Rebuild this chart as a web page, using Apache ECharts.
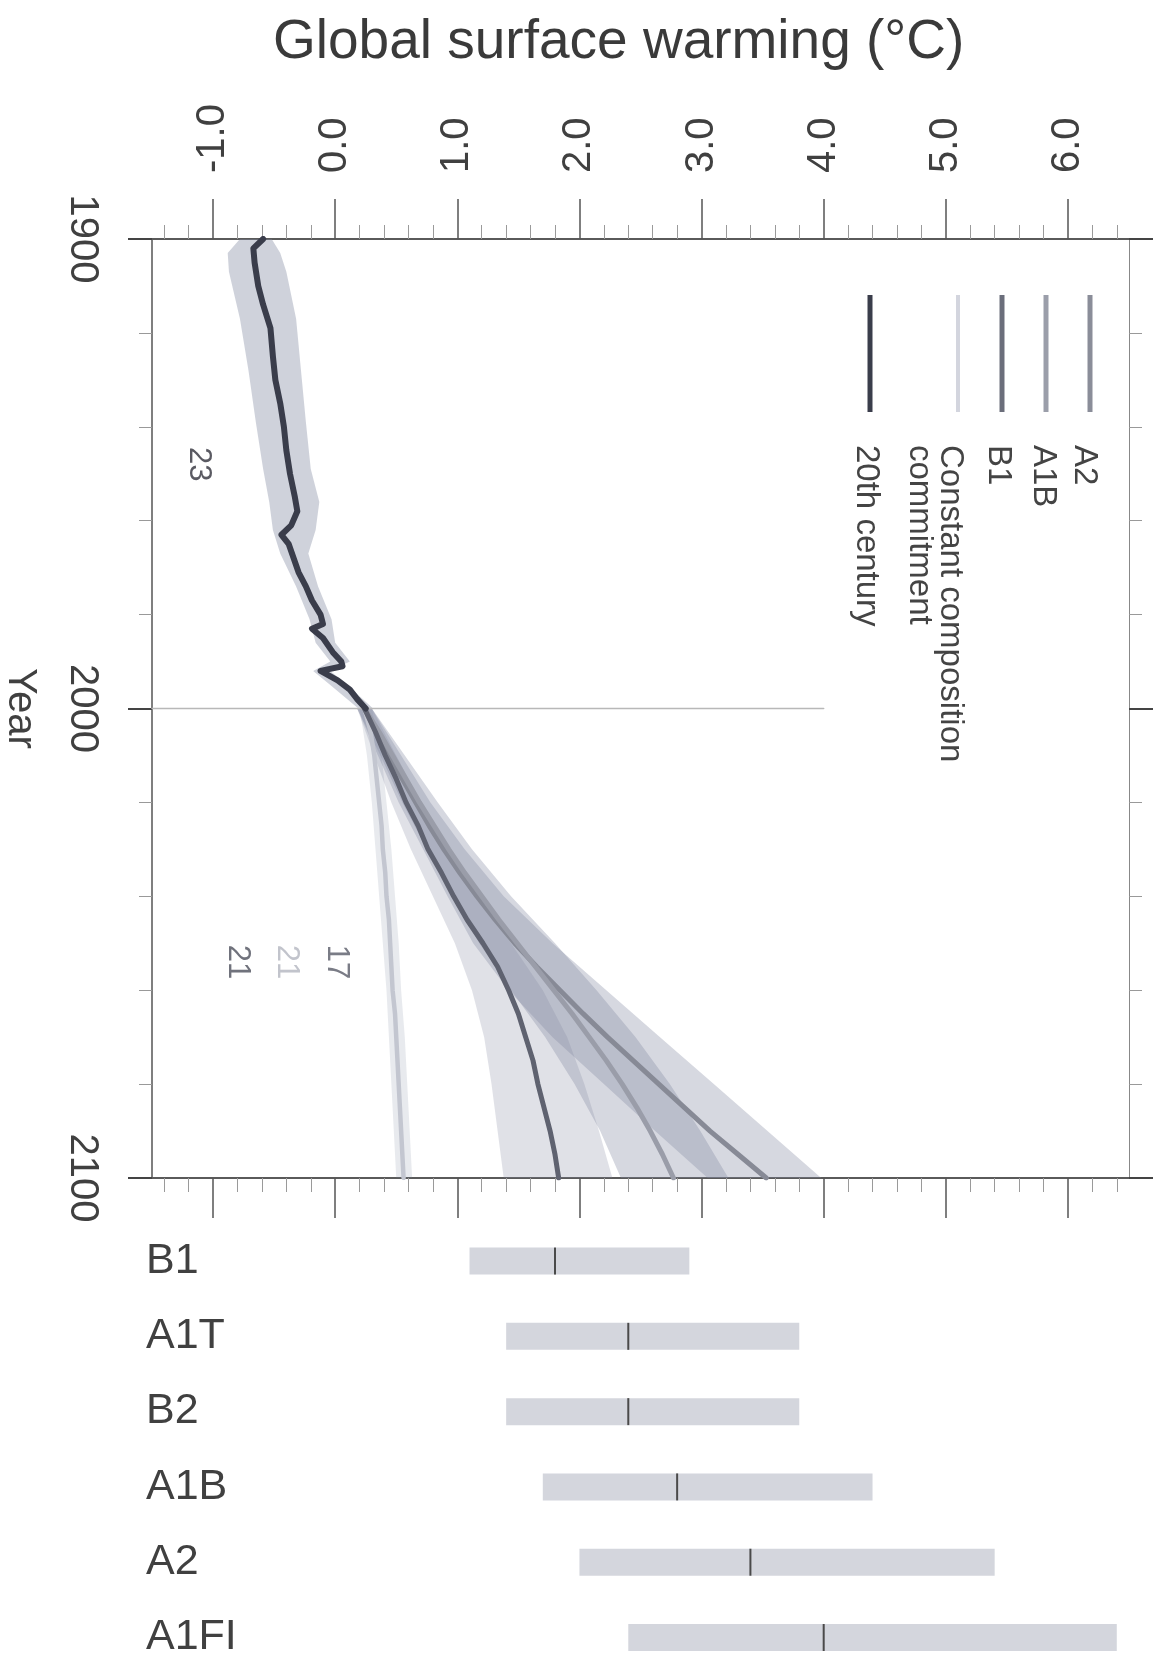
<!DOCTYPE html>
<html><head><meta charset="utf-8">
<script src="https://cdn.jsdelivr.net/npm/echarts@6/dist/echarts.min.js"></script>
<style>html,body{margin:0;padding:0;background:#fff}#c{width:1167px;height:1662px}</style>
</head><body><div id="c"></div>
<script>
// ---------- DATA ----------
const tempMajor = [-1, 0, 1, 2, 3, 4, 5, 6];
const tempMinor = [-1.4,-1.2,-0.8,-0.6,-0.4,-0.2,0.2,0.4,0.6,0.8,1.2,1.4,1.6,1.8,2.2,2.4,2.6,2.8,3.2,3.4,3.6,3.8,4.2,4.4,4.6,4.8,5.2,5.4,5.6,5.8,6.2,6.4];
const yearMajor = [1900, 2000, 2100];
const yearMinor = [1920, 1940, 1960, 1980, 2020, 2040, 2060, 2080];

// 20th century multi-model mean
const years20 = [1900,1902,1905,1910,1914,1919,1925,1930,1935,1940,1945,1950,1955,1958,1961,1963,1965,1968,1971,1974,1977,1980,1982,1983,1985,1988,1990,1991,1992,1994,1996,1998,2000];
const temp20  = [-0.59,-0.67,-0.66,-0.63,-0.59,-0.53,-0.51,-0.49,-0.45,-0.42,-0.40,-0.37,-0.33,-0.31,-0.36,-0.44,-0.38,-0.34,-0.30,-0.24,-0.19,-0.12,-0.10,-0.19,-0.10,-0.02,0.05,0.06,-0.12,0.02,0.12,0.18,0.25];
// 20th century +/- 1 sd band
const band20Years = [1900,1903,1907,1917,1928,1939,1949,1956,1962,1967,1974,1981,1986,1990,1992,1995,2000];
const band20Low   = [-0.78,-0.88,-0.87,-0.78,-0.71,-0.65,-0.59,-0.54,-0.51,-0.45,-0.32,-0.21,-0.16,-0.04,-0.18,-0.04,0.19];
const band20High  = [-0.52,-0.45,-0.40,-0.32,-0.28,-0.24,-0.20,-0.13,-0.16,-0.22,-0.14,-0.03,0.00,0.12,-0.04,0.10,0.31];

// 21st century scenarios
const scenYears = [2000,2005,2010,2015,2020,2025,2030,2035,2040,2045,2050,2055,2060,2065,2070,2075,2080,2085,2090,2095,2100];
const tempA2    = [0.24,0.34,0.44,0.55,0.66,0.77,0.89,1.02,1.16,1.31,1.47,1.65,1.84,2.03,2.23,2.44,2.65,2.86,3.07,3.30,3.53];
const tempA1B   = [0.24,0.36,0.47,0.58,0.69,0.81,0.93,1.06,1.20,1.34,1.49,1.64,1.79,1.94,2.08,2.22,2.35,2.47,2.58,2.68,2.77];
const tempB1    = [0.24,0.33,0.41,0.50,0.58,0.68,0.76,0.87,0.97,1.08,1.21,1.33,1.42,1.50,1.56,1.62,1.66,1.71,1.76,1.80,1.83];
const tempCC    = [0.24,0.29,0.32,0.34,0.36,0.38,0.39,0.41,0.42,0.44,0.45,0.46,0.47,0.49,0.50,0.51,0.52,0.53,0.54,0.55,0.56];

// scenario +/- 1 sd bands
const bandYears = [2000,2010,2020,2030,2040,2050,2060,2070,2080,2090,2100];
const bandA2Low   = [0.18,0.35,0.52,0.72,0.92,1.13,1.42,1.78,2.20,2.62,3.05];
const bandA2High  = [0.30,0.54,0.78,1.06,1.38,1.78,2.22,2.66,3.10,3.54,3.98];
const bandA1BLow  = [0.18,0.37,0.55,0.75,0.96,1.18,1.44,1.72,1.96,2.17,2.34];
const bandA1BHigh = [0.30,0.57,0.84,1.12,1.44,1.80,2.14,2.46,2.74,2.99,3.22];
const bandB1Low   = [0.18,0.32,0.46,0.62,0.80,0.98,1.12,1.22,1.28,1.33,1.38];
const bandB1High  = [0.30,0.50,0.70,0.92,1.16,1.44,1.70,1.90,2.04,2.16,2.27];
const bandCCLow   = [0.20,0.26,0.30,0.33,0.36,0.39,0.42,0.44,0.46,0.48,0.50];
const bandCCHigh  = [0.30,0.38,0.42,0.46,0.49,0.52,0.54,0.57,0.59,0.61,0.63];

// reference line at year 2000
const refLineTemp = [-1.5, 4.0];
const refLineYear = [2000, 2000];

// model counts
const annoText = ['23', '17', '21', '21'];
const annoTemp = [-1.12, 0.01, -0.40, -0.80];
const annoYear = [1948, 2054, 2054, 2054];

// likely ranges at 2090-2099
const barNames = ['B1', 'A1T', 'B2', 'A1B', 'A2', 'A1FI'];
const barRows  = [0, 1, 2, 3, 4, 5];
const barLow   = [1.1, 1.4, 1.4, 1.7, 2.0, 2.4];
const barHigh  = [2.9, 3.8, 3.8, 4.4, 5.4, 6.4];
const barBest  = [1.8, 2.4, 2.4, 2.8, 3.4, 4.0];

// ---------- CHART ----------
const FONT = '"Liberation Sans", Arial, Helvetica, sans-serif';
const TXT = '#404040';
const chart = echarts.init(document.getElementById('c'), null, {renderer: 'canvas'});

const pair = (xs, ys) => xs.map((x, i) => [x, ys[i]]);
function bandSeries(years, low, high, fill) {
  return {
    type: 'custom', xAxisIndex: 0, yAxisIndex: 0, clip: true, silent: true,
    data: [[0, 2000]],
    renderItem: function (params, api) {
      const pts = [];
      for (let i = 0; i < years.length; i++) pts.push(api.coord([low[i], years[i]]));
      for (let i = years.length - 1; i >= 0; i--) pts.push(api.coord([high[i], years[i]]));
      return {type: 'polygon', shape: {points: pts}, style: {fill: fill}};
    }
  };
}
function lineSeries(xs, ys, color, width) {
  return {type: 'line', xAxisIndex: 0, yAxisIndex: 0, data: pair(xs, ys), showSymbol: false,
    symbol: 'none', silent: true, lineStyle: {color: color, width: width, join: 'round', cap: 'round'}};
}

const BAND = 'rgba(130,137,161,0.33)';
const axisBase = {type: 'value', splitLine: {show: false}, axisPointer: {show: false}};
const tempAxis = (pos, major, showLine, labels) => Object.assign({}, axisBase, {
  gridIndex: 0, position: pos, min: -1.5, max: 6.5,
  axisLine: {show: showLine, onZero: false, lineStyle: {color: '#5a5a5a', width: 2}},
  axisTick: {show: true, customValues: major ? tempMajor : tempMinor, length: major ? 40 : 14,
    lineStyle: {color: major ? '#555' : '#9a9a9a', width: major ? 1.5 : 1}},
  axisLabel: labels ? {show: true, customValues: tempMajor, rotate: -90, margin: 66,
    formatter: v => v.toFixed(1), fontSize: 40, color: TXT, fontFamily: FONT} : {show: false}
});
const yearAxis = (pos, major, showLine, labels) => Object.assign({}, axisBase, {
  gridIndex: 0, position: pos, min: 1900, max: 2100, inverse: true,
  axisLine: {show: showLine, onZero: false, lineStyle: {color: pos === 'left' ? '#555' : '#888', width: pos === 'left' ? 1.5 : 1}},
  axisTick: {show: true, customValues: major ? yearMajor : yearMinor, length: major ? 24 : 13,
    lineStyle: {color: major ? '#444' : '#999', width: major ? 2 : 1}},
  axisLabel: labels ? {show: true, customValues: yearMajor, rotate: -90, margin: 50,
    formatter: v => String(v), fontSize: 40, color: TXT, fontFamily: FONT} : {show: false},
  name: labels ? 'Year' : '', nameLocation: 'middle', nameRotate: -90, nameGap: 112,
  nameTextStyle: {fontSize: 40, color: TXT, fontFamily: FONT}
});

const legendItems = [
  {name: 'A2', color: '#8a8d99', w: 5, lx: 1090, tx: 1084},
  {name: 'A1B', color: '#9b9eaa', w: 5, lx: 1046, tx: 1043},
  {name: 'B1', color: '#6b6e7b', w: 5, lx: 1002, tx: 998},
  {name: 'Constant composition\ncommitment', color: '#d3d5de', w: 4, lx: 958, tx: 934.5},
  {name: '20th century', color: '#3a3d4b', w: 5, lx: 870, tx: 866}
];
const graphic = [];
legendItems.forEach(it => {
  graphic.push({type: 'line', shape: {x1: it.lx, y1: 295, x2: it.lx, y2: 412},
    style: {stroke: it.color, lineWidth: it.w}, silent: true});
  graphic.push({type: 'text', x: it.tx, y: 445, rotation: -Math.PI / 2, silent: true,
    style: {text: it.name, fill: '#444', font: '33px ' + FONT, align: 'left', verticalAlign: 'middle', lineHeight: 31}});
});

const annoColors = ['#5a5a62', '#7a7c86', '#c2c4cc', '#70727c'];

const option = {
  animation: false,
  backgroundColor: '#ffffff',
  title: {text: 'Global surface warming (°C)', left: 268, top: 10,
    textStyle: {fontSize: 55, fontWeight: 'normal', color: '#3a3a3a', fontFamily: FONT}},
  grid: [
    {left: 152, top: 239, width: 977, height: 939, containLabel: false, outerBoundsMode: 'none'},
    {left: 152, top: 1223.4, width: 977, height: 436.7, containLabel: false, outerBoundsMode: 'none'}
  ],
  xAxis: [
    tempAxis('top', true, true, true),
    tempAxis('top', false, false, false),
    tempAxis('bottom', true, true, false),
    tempAxis('bottom', false, false, false),
    Object.assign({}, axisBase, {gridIndex: 1, min: -1.5, max: 6.5, show: false})
  ],
  yAxis: [
    yearAxis('left', true, true, true),
    yearAxis('left', false, false, false),
    yearAxis('right', true, true, false),
    yearAxis('right', false, false, false),
    Object.assign({}, axisBase, {gridIndex: 1, min: -0.5, max: 5.3, inverse: true,
      axisLine: {show: false, onZero: false}, axisTick: {show: false},
      axisLabel: {show: true, customValues: barRows, formatter: v => barNames[Math.round(v)],
        align: 'left', margin: 6, fontSize: 43, color: TXT, fontFamily: FONT}})
  ],
  graphic: graphic,
  series: [
    bandSeries(band20Years, band20Low, band20High, 'rgba(130,137,161,0.38)'),
    bandSeries(bandYears, bandA2Low, bandA2High, BAND),
    bandSeries(bandYears, bandA1BLow, bandA1BHigh, BAND),
    bandSeries(bandYears, bandB1Low, bandB1High, 'rgba(130,137,161,0.25)'),
    bandSeries(bandYears, bandCCLow, bandCCHigh, 'rgba(130,137,161,0.18)'),
    lineSeries(refLineTemp, refLineYear, '#b8b8b8', 1.5),
    lineSeries(tempCC, scenYears, '#c3c6d0', 4.5),
    lineSeries(tempA2, scenYears, '#878a96', 5),
    lineSeries(tempA1B, scenYears, '#9a9da9', 5),
    lineSeries(tempB1, scenYears, '#5f6270', 5),
    lineSeries(temp20, years20, '#3a3d4b', 6),
    {
      type: 'custom', xAxisIndex: 0, yAxisIndex: 0, silent: true,
      data: annoText.map((t, i) => [annoTemp[i], annoYear[i], i]),
      renderItem: function (params, api) {
        const p = api.coord([api.value(0), api.value(1)]);
        const i = api.value(2);
        return {type: 'text', x: p[0], y: p[1], rotation: -Math.PI / 2,
          style: {text: annoText[i], fill: annoColors[i], font: '31px ' + FONT, align: 'center', verticalAlign: 'middle'}};
      }
    },
    {
      type: 'custom', xAxisIndex: 4, yAxisIndex: 4, silent: true,
      encode: {x: [0, 1, 2], y: 3},
      data: barNames.map((n, i) => [barLow[i], barHigh[i], barBest[i], barRows[i]]),
      renderItem: function (params, api) {
        const row = api.value(3);
        const p0 = api.coord([api.value(0), row]);
        const p1 = api.coord([api.value(1), row]);
        const pm = api.coord([api.value(2), row]);
        const h = 27;
        return {type: 'group', children: [
          {type: 'rect', shape: {x: p0[0], y: p0[1] - h / 2, width: p1[0] - p0[0], height: h}, style: {fill: '#d4d6dd'}},
          {type: 'line', shape: {x1: pm[0], y1: p0[1] - h / 2, x2: pm[0], y2: p0[1] + h / 2}, style: {stroke: '#4a4a4a', lineWidth: 2}}
        ]};
      }
    }
  ]
};
chart.setOption(option);
</script></body></html>
